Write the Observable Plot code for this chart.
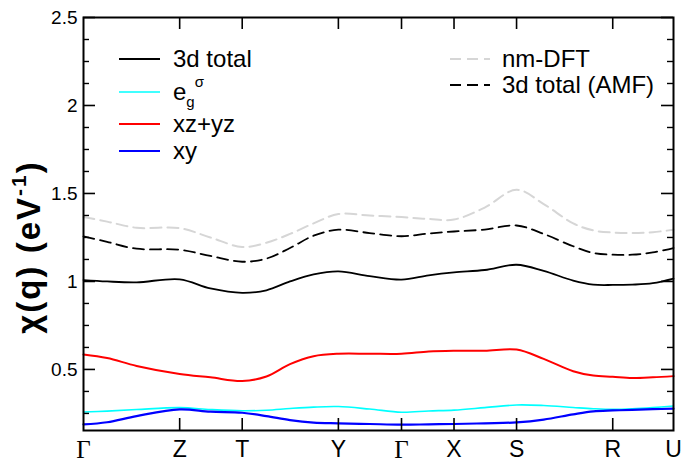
<!DOCTYPE html>
<html>
<head>
<meta charset="utf-8">
<script src="https://cdn.jsdelivr.net/npm/d3@7"></script>
<script src="https://cdn.jsdelivr.net/npm/@observablehq/plot@0.6"></script>
<style>
  body { margin: 0; background: #fff; }
  #chart { width: 683px; height: 462px; }
  svg { overflow: visible; }
</style>
</head>
<body>
<div id="chart"></div>
<script>
// ---- data ----
const tickPos    = [0, 0.163, 0.269, 0.432, 0.539, 0.628, 0.734, 0.897, 1.0];
const tickLabels = ["Γ", "Z", "T", "Y", "Γ", "X", "S", "R", "U"];
const yMajor = [0.5, 1, 1.5, 2, 2.5];
const yMinor = [0.25, 0.375, 0.625, 0.75, 0.875, 1.125, 1.25, 1.375, 1.625, 1.75, 1.875, 2.125, 2.25, 2.375];

const kSample = [0, 0.04, 0.09, 0.163, 0.215, 0.269, 0.31, 0.35, 0.39, 0.432, 0.485, 0.539, 0.585, 0.628, 0.68, 0.734, 0.78, 0.83, 0.864, 0.897, 0.93, 0.965, 1.0];
const nmDFT    = [1.366, 1.34, 1.305, 1.303, 1.25, 1.196, 1.22, 1.27, 1.33, 1.383, 1.375, 1.366, 1.355, 1.352, 1.42, 1.521, 1.44, 1.33, 1.29, 1.278, 1.275, 1.28, 1.294];
const totalAMF = [1.256, 1.225, 1.186, 1.18, 1.145, 1.112, 1.13, 1.19, 1.26, 1.294, 1.275, 1.257, 1.272, 1.284, 1.295, 1.318, 1.27, 1.2, 1.162, 1.152, 1.152, 1.165, 1.19];
const total3d  = [1.008, 1.0, 0.995, 1.012, 0.96, 0.935, 0.95, 1.0, 1.04, 1.057, 1.03, 1.01, 1.035, 1.052, 1.065, 1.095, 1.06, 1.005, 0.982, 0.98, 0.982, 0.99, 1.016];
const xzyz     = [0.585, 0.565, 0.52, 0.474, 0.455, 0.434, 0.46, 0.53, 0.575, 0.589, 0.589, 0.589, 0.602, 0.606, 0.606, 0.613, 0.56, 0.49, 0.465, 0.458, 0.451, 0.455, 0.462];
const egSigma  = [0.258, 0.263, 0.272, 0.283, 0.272, 0.265, 0.268, 0.278, 0.286, 0.289, 0.275, 0.257, 0.264, 0.269, 0.283, 0.298, 0.295, 0.284, 0.277, 0.273, 0.276, 0.283, 0.292];
const xy       = [0.188, 0.2, 0.235, 0.273, 0.26, 0.254, 0.235, 0.212, 0.198, 0.194, 0.19, 0.186, 0.188, 0.19, 0.194, 0.199, 0.215, 0.245, 0.262, 0.267, 0.27, 0.274, 0.277];

// ---- layout ----
const W = 683, H = 462;
const mL = 83, mR = 10, mT = 17, mB = 32;
const fw = W - mL - mR, fh = H - mT - mB;
const sans = "'Liberation Sans', Arial, Helvetica, sans-serif";
const serif = "'Liberation Serif', 'DejaVu Serif', serif";

const idx = d3.range(kSample.length);
const lineOf = (vals, opts) => Plot.line(idx, {x: i => kSample[i], y: i => vals[i], curve: "catmull-rom", ...opts});

const gammaTicks = tickPos.filter((d, i) => tickLabels[i] === "Γ");
const otherTicks = tickPos.filter((d, i) => tickLabels[i] !== "Γ");
const lab = d => tickLabels[tickPos.indexOf(d)];

const styles = {
  nm:   {stroke: "#d6d6d6", strokeWidth: 2, strokeDasharray: "11,6"},
  amf:  {stroke: "#000", strokeWidth: 1.8, strokeDasharray: "11,6"},
  tot:  {stroke: "#000", strokeWidth: 1.8},
  eg:   {stroke: "#00ffff", strokeWidth: 1.6},
  xzyz: {stroke: "#ff0000", strokeWidth: 2},
  xy:   {stroke: "#0000ff", strokeWidth: 2.2}
};

const chart = Plot.plot({
  width: W, height: H,
  marginLeft: mL, marginRight: mR, marginTop: mT, marginBottom: mB,
  x: {domain: [0, 1]},
  y: {domain: [0.153, 2.5]},
  style: {fontFamily: sans, background: "white", color: "black"},
  marks: [
    lineOf(nmDFT, styles.nm),
    lineOf(totalAMF, styles.amf),
    lineOf(total3d, styles.tot),
    lineOf(xzyz, styles.xzyz),
    lineOf(egSigma, styles.eg),
    lineOf(xy, styles.xy),
    // inward ticks, mirrored on all sides
    Plot.tickY(yMajor, {y: d => d, insetRight: fw - 12, stroke: "black", strokeWidth: 1.6}),
    Plot.tickY(yMajor, {y: d => d, insetLeft: fw - 12, stroke: "black", strokeWidth: 1.6}),
    Plot.tickY(yMinor, {y: d => d, insetRight: fw - 6, stroke: "black", strokeWidth: 1.4}),
    Plot.tickY(yMinor, {y: d => d, insetLeft: fw - 6, stroke: "black", strokeWidth: 1.4}),
    Plot.tickX(tickPos.slice(1, -1), {x: d => d, insetTop: fh - 12, stroke: "black", strokeWidth: 1.6}),
    Plot.tickX(tickPos.slice(1, -1), {x: d => d, insetBottom: fh - 12, stroke: "black", strokeWidth: 1.6}),
    Plot.frame({stroke: "black", strokeWidth: 2}),
    Plot.axisY(yMajor, {tickSize: 0, tickPadding: 6, tickFormat: d => String(d), fontSize: 19, label: null}),
    Plot.axisX(otherTicks, {tickSize: 0, tickPadding: 10, tickFormat: lab, fontSize: 23, label: null}),
    Plot.axisX(gammaTicks, {tickSize: 0, tickPadding: 10, tickFormat: lab, fontSize: 25, fontFamily: serif, label: null})
  ]
});
document.getElementById("chart").appendChild(chart);

// ---- y-axis title ----
const svg = d3.select(chart);
const title = svg.append("text")
  .attr("transform", "translate(40,247) rotate(-90)")
  .attr("text-anchor", "middle")
  .attr("letter-spacing", 2)
  .attr("font-family", sans).attr("font-size", 33).attr("font-weight", "bold").attr("fill", "black");
title.append("tspan").text("χ(");
title.append("tspan").text("q");
title.append("tspan").text(") (eV");
title.append("tspan").attr("dy", -14).attr("font-size", 21).text("-1");
title.append("tspan").attr("dy", 14).text(")");

// ---- legends ----
const leg = svg.append("g").attr("font-family", sans).attr("font-size", 24).attr("fill", "black")
  .attr("text-anchor", "start");
function legLine(x1, x2, y, st) {
  leg.append("line").attr("x1", x1).attr("x2", x2).attr("y1", y).attr("y2", y)
    .attr("stroke", st.stroke).attr("stroke-width", st.strokeWidth)
    .attr("stroke-dasharray", st.strokeDasharray || null);
}
function legText(x, y) {
  return leg.append("text").attr("x", x).attr("y", y).attr("dy", "0.35em");
}
legLine(119, 160, 59, styles.tot);  legText(173, 59).text("3d total");
legLine(119, 160, 92, styles.eg);
{
  const t = legText(173, 92);
  t.append("tspan").text("e");
  t.append("tspan").attr("dy", 7).attr("font-size", 15).text("g");
  t.append("tspan").attr("dy", -20).attr("font-size", 15).text("σ");
}
legLine(119, 160, 124, styles.xzyz); legText(173, 124).text("xz+yz");
legLine(119, 160, 151, styles.xy);   legText(173, 151).text("xy");

legLine(450, 490, 59, styles.nm);   legText(502, 59).text("nm-DFT");
legLine(450, 490, 85, styles.amf);  legText(502, 85).text("3d total (AMF)");
</script>
</body>
</html>
